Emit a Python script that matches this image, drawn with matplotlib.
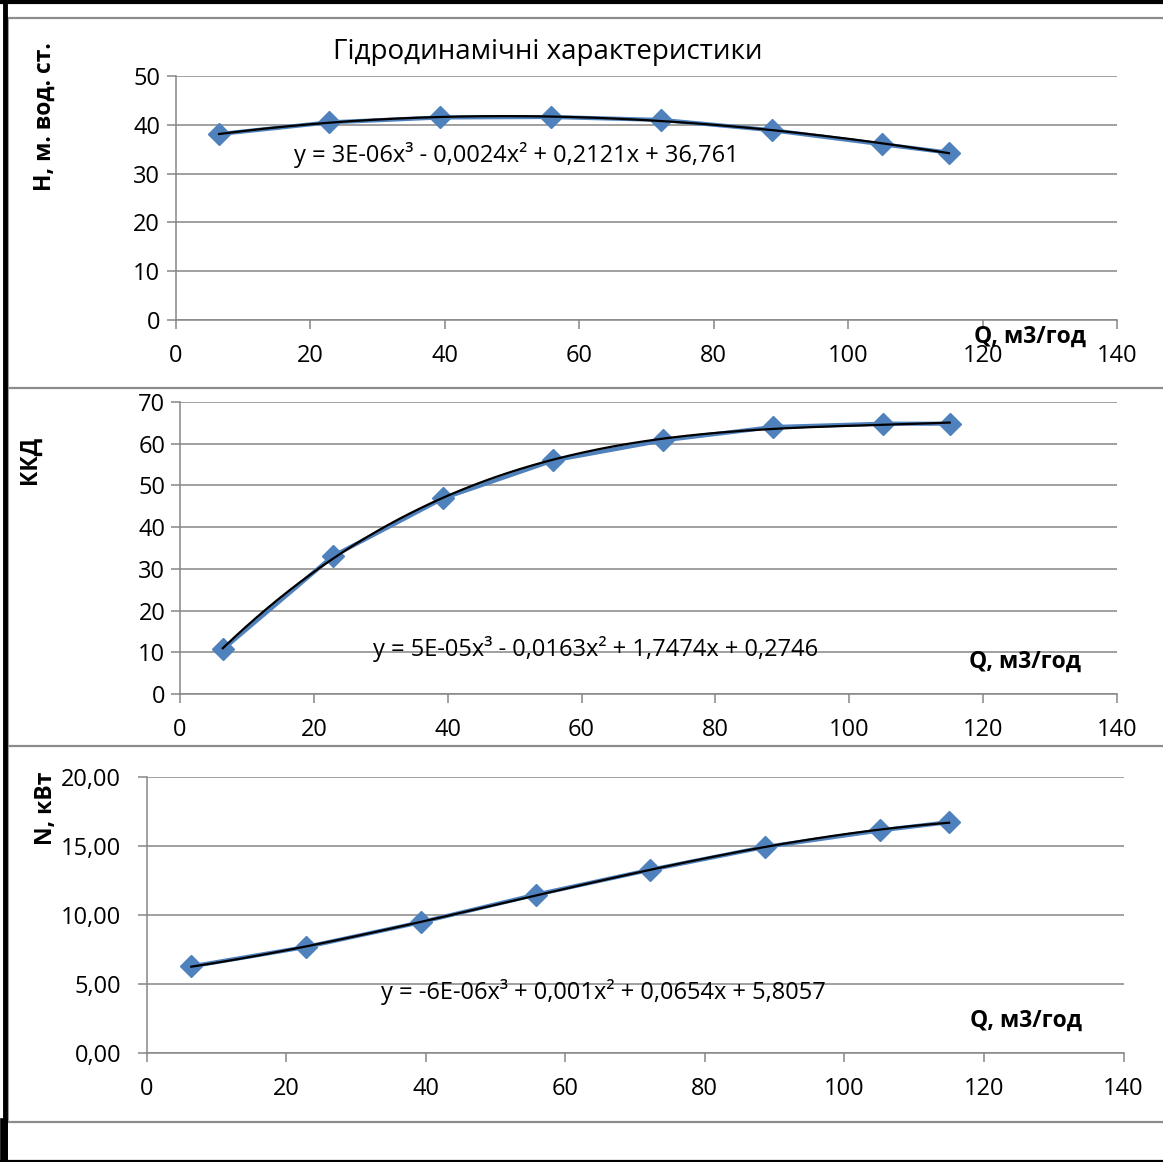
import numpy as np
import matplotlib
matplotlib.use("Agg")
import matplotlib.pyplot as plt
from matplotlib.lines import Line2D
from matplotlib.ticker import FuncFormatter, MultipleLocator

# ---------------- data ----------------
Q = [6.4, 22.8, 39.3, 55.8, 72.2, 88.6, 105.1, 115.0]
H = [38.1, 40.5, 41.5, 41.6, 41.0, 38.9, 36.0, 34.3]
KKD = [10.7, 33.0, 46.9, 56.0, 60.8, 64.0, 64.8, 64.8]
N = [6.3, 7.7, 9.5, 11.5, 13.3, 14.95, 16.15, 16.75]

title = "Гідродинамічні характеристики"
eq_H = "y = 3E-06x³ - 0,0024x² + 0,2121x + 36,761"
eq_K = "y = 5E-05x³ - 0,0163x² + 1,7474x + 0,2746"
eq_N = "y = -6E-06x³ + 0,001x² + 0,0654x + 5,8057"
ylab_H = "H, м. вод. ст."
ylab_K = "ККД"
ylab_N = "N, кВт"
xlab = "Q, м3/год"

# ---------------- style ----------------
W, Hpx = 1163, 1162
plt.rcParams['font.family'] = ['Open Sans', 'DejaVu Sans']
BLUE = '#4F81BD'
GRAY = '#868686'
TICKFS = 17
EQFS = 17
LABFS = 16.5

fig = plt.figure(figsize=(W / 100, Hpx / 100), dpi=100)
fig.patch.set_facecolor('white')


def fx(x):
    return x / W


def fy(y):
    return 1 - y / Hpx


def add_axes(l, r, t, b):
    return fig.add_axes([fx(l), fy(b), fx(r) - fx(l), fy(t) - fy(b)])


def style(ax, ymax, ystep, ypad, fmt=None):
    ax.set_xlim(0, 140)
    ax.set_ylim(0, ymax)
    ax.xaxis.set_major_locator(MultipleLocator(20))
    ax.yaxis.set_major_locator(MultipleLocator(ystep))
    for s in ['top', 'right']:
        ax.spines[s].set_visible(False)
    for s in ['left', 'bottom']:
        ax.spines[s].set_color(GRAY)
        ax.spines[s].set_linewidth(1.1)
    ax.grid(axis='y', color=GRAY, linewidth=1.1)
    ax.set_axisbelow(True)
    ax.tick_params(axis='both', direction='out', color=GRAY, width=1.1,
                   length=6.5, labelsize=TICKFS, labelcolor='black')
    ax.tick_params(axis='x', pad=10.5)
    ax.tick_params(axis='y', pad=ypad)
    if fmt is not None:
        ax.yaxis.set_major_formatter(fmt)
    ax.patch.set_alpha(0)


def plot_series(ax, y):
    ax.plot(Q, y, color=BLUE, lw=3.0, marker='D', ms=11.5, mec=BLUE, mfc=BLUE,
            zorder=3, clip_on=False)
    coef = np.polyfit(Q, y, 3)
    xs = np.linspace(Q[0], Q[-1], 200)
    ax.plot(xs, np.polyval(coef, xs), color='black', lw=1.6, zorder=4,
            clip_on=False)


# Panel borders / outer frame
for yy in [18, 388, 746, 1122]:
    fig.add_artist(Line2D([fx(5), 1], [fy(yy), fy(yy)], color='#8c8c8c',
                          lw=1.6, transform=fig.transFigure))
fig.add_artist(Line2D([fx(7.5), fx(7.5)], [fy(18), fy(1122)], color='#8c8c8c',
                      lw=1.2, transform=fig.transFigure))
fig.add_artist(Line2D([0, 1], [fy(1.5), fy(1.5)], color='black', lw=3,
                      transform=fig.transFigure))
fig.add_artist(Line2D([fx(4.5), fx(4.5)], [fy(0), fy(1162)], color='black',
                      lw=3.5, transform=fig.transFigure))
fig.add_artist(Line2D([fx(3.5), fx(3.5)], [fy(1122), fy(1162)], color='black',
                      lw=5.5, transform=fig.transFigure))
fig.add_artist(Line2D([0, 1], [fy(1161), fy(1161)], color='black', lw=1.6,
                      transform=fig.transFigure))

# Panel 1
ax1 = add_axes(176, 1117, 76, 320)
style(ax1, 50, 10, 5.0)
plot_series(ax1, H)
fig.text(fx(548), fy(52), title, ha='center', va='center', fontsize=20)
fig.text(fx(516), fy(155), eq_H, ha='center', va='center', fontsize=EQFS)
fig.text(fx(45), fy(117), ylab_H, ha='center', va='center', rotation=90,
         fontsize=LABFS, fontweight='bold')
fig.text(fx(1030), fy(337), xlab, ha='center', va='center', fontsize=LABFS,
         fontweight='bold')

# Panel 2
ax2 = add_axes(180, 1117, 402, 694)
style(ax2, 70, 10, 4.0)
plot_series(ax2, KKD)
fig.text(fx(596), fy(649), eq_K, ha='center', va='center', fontsize=EQFS)
fig.text(fx(30), fy(460), ylab_K, ha='center', va='center', rotation=90,
         fontsize=LABFS, fontweight='bold')
fig.text(fx(1025), fy(662), xlab, ha='center', va='center', fontsize=LABFS,
         fontweight='bold')

# Panel 3
ax3 = add_axes(146.7, 1123.5, 777.3, 1053.3)
style(ax3, 20, 5, 12.0,
      FuncFormatter(lambda v, p: f"{v:.2f}".replace('.', ',')))
plot_series(ax3, N)
fig.text(fx(603), fy(992), eq_N, ha='center', va='center', fontsize=EQFS)
fig.text(fx(46), fy(808), ylab_N, ha='center', va='center', rotation=90,
         fontsize=LABFS, fontweight='bold')
fig.text(fx(1026), fy(1021), xlab, ha='center', va='center', fontsize=LABFS,
         fontweight='bold')

fig.savefig("out.png", dpi=100, facecolor='white')
